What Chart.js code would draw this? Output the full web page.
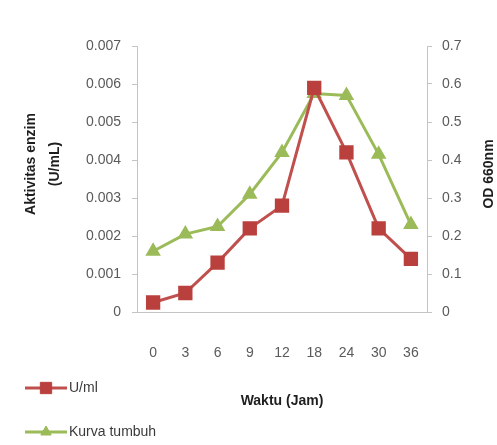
<!DOCTYPE html>
<html>
<head>
<meta charset="utf-8">
<script src="https://cdn.jsdelivr.net/npm/chart.js@4/dist/chart.umd.min.js"></script>
<style>
  body { margin: 0; background: #fff; }
  #wrap { position: relative; width: 497px; height: 445px; }
</style>
</head>
<body>
<div id="wrap"><canvas id="chart"></canvas></div>
<script>
// data
const hours = ['0', '3', '6', '9', '12', '18', '24', '30', '36'];
const enzymeActivity = [0.00025, 0.0005, 0.0013, 0.0022, 0.0028, 0.0059, 0.0042, 0.0022, 0.0014];
const growthCurve = [0.16, 0.205, 0.225, 0.31, 0.42, 0.575, 0.57, 0.415, 0.23];
const leftTitle = ['Aktivitas enzim', '(U/mL)'];
const rightTitle = 'OD 660nm';
const xTitle = 'Waktu (Jam)';

const red = '#c0504d';
const green = '#9bbb59';
const axisColor = '#c4c4c4';
const tickColor = '#5a5a5a';

Chart.defaults.font.family = '"Liberation Sans", Arial, sans-serif';

// y titles (the right one reads bottom-to-top) and the two-row legend
const extras = {
    id: 'extras',
    afterDraw(chart) {
        const ctx = chart.ctx;
        ctx.save();
        ctx.fillStyle = '#1e1e1e';
        ctx.font = 'bold 14px "Liberation Sans", Arial, sans-serif';
        ctx.textAlign = 'center';
        ctx.textBaseline = 'middle';

        ctx.save();
        ctx.translate(31, 164);
        ctx.rotate(-Math.PI / 2);
        leftTitle.forEach((line, i) => ctx.fillText(line, 0, i * 24));
        ctx.restore();

        ctx.save();
        ctx.translate(489, 174);
        ctx.rotate(-Math.PI / 2);
        ctx.fillText(rightTitle, 0, 0);
        ctx.restore();

        const rows = [388, 432];
        chart.data.datasets.forEach((ds, i) => {
            const y = rows[i];
            ctx.strokeStyle = ds.borderColor;
            ctx.lineWidth = 3;
            ctx.beginPath();
            ctx.moveTo(25, y);
            ctx.lineTo(67, y);
            ctx.stroke();
            ctx.fillStyle = ds.pointBackgroundColor;
            ctx.strokeStyle = ds.pointBorderColor;
            ctx.lineWidth = 1;
            Chart.helpers.drawPoint(ctx, { pointStyle: ds.pointStyle, radius: ds.pointRadius, rotation: 0, borderWidth: 1 }, 46, y);
            ctx.fillStyle = '#3a3a3a';
            ctx.font = '14px "Liberation Sans", Arial, sans-serif';
            ctx.textAlign = 'left';
            ctx.fillText(ds.label, 69, y);
        });
        ctx.restore();
    }
};

new Chart(document.getElementById('chart'), {
    type: 'line',
    data: {
        labels: hours,
        datasets: [
            {
                label: 'U/ml', data: enzymeActivity, yAxisID: 'y',
                borderColor: red, borderWidth: 3, pointStyle: 'rect', pointRadius: 8,
                pointBackgroundColor: '#b9403d', pointBorderColor: '#b9403d', tension: 0
            },
            {
                label: 'Kurva tumbuh', data: growthCurve, yAxisID: 'y1',
                borderColor: green, borderWidth: 3, pointStyle: 'triangle', pointRadius: 6,
                pointBackgroundColor: green, pointBorderColor: green, tension: 0
            }
        ]
    },
    options: {
        responsive: true,
        maintainAspectRatio: false,
        animation: false,
        layout: { padding: { top: 46, left: 0, right: 0, bottom: 0 } },
        plugins: { legend: { display: false }, tooltip: { enabled: false } },
        scales: {
            x: {
                offset: true,
                grid: { display: false, drawTicks: false },
                border: { display: true, color: axisColor, width: 1 },
                ticks: { color: tickColor, font: { size: 14 }, padding: 33 },
                title: { display: true, text: xTitle, color: '#1e1e1e', font: { size: 14, weight: 'bold' }, padding: { top: 0, bottom: 35 } },
                afterFit(scale) { scale.height = 133; }
            },
            y: {
                position: 'left', min: 0, max: 0.007,
                grid: { drawOnChartArea: false, drawTicks: true, tickLength: 5, color: axisColor },
                border: { color: axisColor },
                ticks: { stepSize: 0.001, color: tickColor, font: { size: 14 }, padding: 11,
                         callback: v => v === 0 ? '0' : v.toFixed(3) },
                afterFit(scale) { scale.width = 137; }
            },
            y1: {
                position: 'right', min: 0, max: 0.7,
                grid: { drawOnChartArea: false, drawTicks: true, tickLength: 5, color: axisColor },
                border: { color: axisColor },
                ticks: { stepSize: 0.1, color: tickColor, font: { size: 14 }, padding: 10,
                         callback: v => v === 0 ? '0' : v.toFixed(1) },
                afterFit(scale) { scale.width = 70; }
            }
        }
    },
    plugins: [extras]
});
</script>
</body>
</html>
